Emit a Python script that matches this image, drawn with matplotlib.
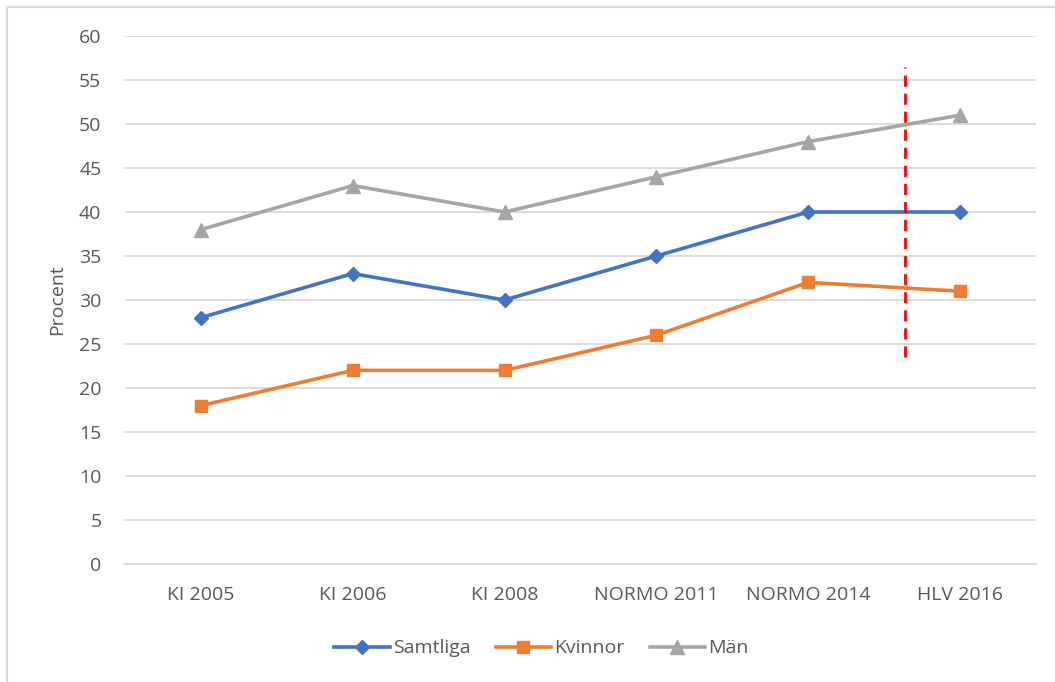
import matplotlib
matplotlib.use("Agg")
import matplotlib.pyplot as plt
from matplotlib.patches import Rectangle

plt.rcParams['font.family'] = ['Open Sans', 'DejaVu Sans']

# ------------------ data ----------------------#
categories = ['KI 2005', 'KI 2006', 'KI 2008', 'NORMO 2011', 'NORMO 2014', 'HLV 2016']
samtliga = [28, 33, 30, 35, 40, 40]
kvinnor = [18, 22, 22, 26, 32, 31]
man = [38, 43, 40, 44, 48, 51]
yticks = list(range(0, 65, 5))

# method-change marker between NORMO 2014 and HLV 2016
split_x = 4.64
split_y = [23.5, 56.5]

text_color = '#595959'
grid_color = '#D9D9D9'

W, H = 1055, 682
fig = plt.figure(figsize=(W / 100, H / 100), dpi=100)
ax = fig.add_axes([125 / W, 1 - 564 / H, (1036 - 125) / W, (564 - 36) / H])

# chart frame (only left and top edges fall inside the image)
fig.patches.append(Rectangle((7 / W, -0.1), 1.2, 1 - 7 / H + 0.1, transform=fig.transFigure,
                             facecolor='none', edgecolor=grid_color, linewidth=1.5))

x = range(len(categories))
ax.plot(x, samtliga, color='#4472C4', linewidth=2.6, marker='D', markersize=7.5, label='Samtliga', zorder=3)
ax.plot(x, kvinnor, color='#ED7D31', linewidth=2.6, marker='s', markersize=9, label='Kvinnor', zorder=3)
ax.plot(x, man, color='#A5A5A5', linewidth=2.6, marker='^', markersize=9.5, label='Män', zorder=3)

ax.plot([split_x, split_x], split_y, color='#FF0000', linewidth=2, linestyle=(0, (4, 2.5)), zorder=4)

ax.set_xlim(-0.5, len(categories) - 0.5)
ax.set_ylim(0, 60)
ax.set_yticks(yticks)
ax.set_yticklabels([str(v) for v in yticks])
ax.set_xticks(list(x))
ax.set_xticklabels(categories)
ax.tick_params(axis='both', length=0, labelsize=14, colors=text_color)
ax.tick_params(axis='y', pad=17)
ax.tick_params(axis='x', pad=16)
ax.grid(axis='y', color=grid_color, linewidth=1.3)
ax.set_axisbelow(True)
for sp in ['top', 'right', 'left']:
    ax.spines[sp].set_visible(False)
ax.spines['bottom'].set_color(grid_color)
ax.spines['bottom'].set_linewidth(1.3)

ax.set_ylabel('Procent', fontsize=14, color=text_color, labelpad=9)

leg = ax.legend(loc='center', bbox_to_anchor=(0.457, -0.16), ncol=3, frameon=False,
                fontsize=14, handlelength=2.85, columnspacing=1.3, handletextpad=0.15)
for t in leg.get_texts():
    t.set_color(text_color)

plt.savefig('out.png', dpi=100, facecolor='w')
plt.close('all')
